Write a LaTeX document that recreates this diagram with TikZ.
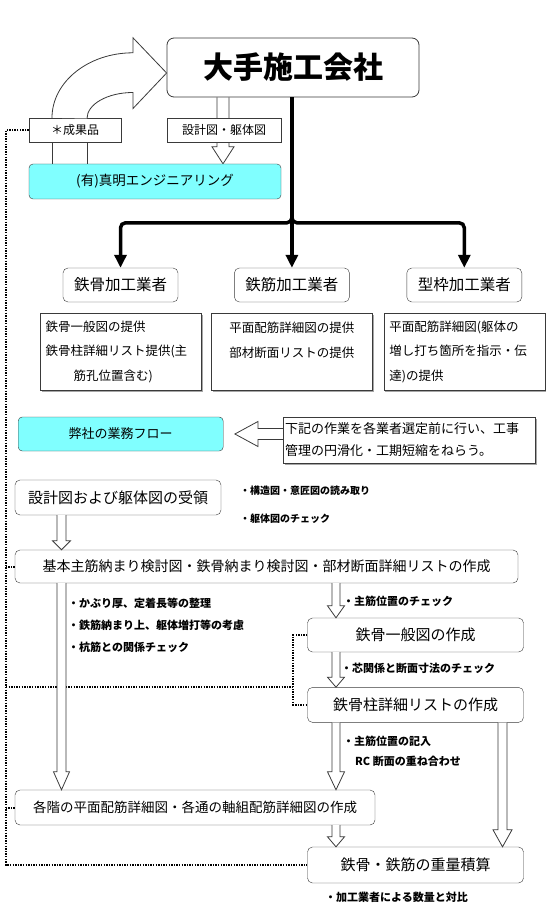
\documentclass[tikz,border=0pt]{standalone}
\usepackage{fontspec}
\setmainfont{Noto Sans CJK JP}
\usetikzlibrary{arrows.meta, positioning, calc, shadows, backgrounds}
\definecolor{frame}{HTML}{3A3A3A}
\definecolor{aqua}{HTML}{80FFFF}
\tikzset{
    >=Latex,
    flow shaft/.store in=\flowshaft,
    flow head/.store in=\flowhead,
    flow head length/.store in=\flowheadlen,
    flow shaft=4.5pt, flow head=9pt, flow head length=15pt,
    flow_company/.style={
        rectangle,
        rounded corners=7pt,
        draw=frame,
        thick,
        fill=white,
        minimum width=252pt,
        minimum height=59pt,
        font=\fontsize{30}{30}\selectfont\bfseries
    },
    flow_label/.style={
        rectangle,
        draw=frame,
        fill=white,
        minimum height=24pt,
        inner sep=0pt,
        font=\fontsize{12}{12}\selectfont
    },
    flow_aqua/.style={
        rectangle,
        rounded corners=4pt,
        draw=frame,
        fill=aqua,
        minimum height=35pt,
        inner sep=0pt,
        font=\fontsize{13.5}{13.5}\selectfont
    },
    flow_maker/.style={
        rectangle,
        rounded corners=5pt,
        draw=frame,
        fill=white,
        minimum width=115pt,
        minimum height=34pt,
        font=\fontsize{15.5}{15.5}\selectfont
    },
    flow_task/.style={
        rectangle,
        draw=frame,
        fill=white,
        minimum width=161pt,
        minimum height=77pt,
        text width=150pt,
        inner sep=0pt,
        align=left,
        font=\fontsize{12.5}{24.5}\selectfont,
        drop shadow={shadow xshift=1.5pt, shadow yshift=-1.5pt, opacity=0.7}
    },
    flow_step/.style={
        rectangle,
        rounded corners=5pt,
        draw=frame,
        fill=white,
        minimum height=34pt,
        inner sep=0pt,
        font=\fontsize{15}{15}\selectfont
    },
    supply_arrow/.style={
        -{Triangle[length=13pt, width=12pt]},
        line width=3.5pt,
        rounded corners=5pt
    },
    flow_arrow/.style={
        draw=frame,
        fill=white,
        line width=0.8pt
    },
    dotted_link/.style={
        black,
        line width=2pt,
        dash pattern=on 1.4pt off 1.2pt
    },
    remark/.style={
        anchor=west,
        inner sep=0pt,
        font=\fontsize{11}{11}\selectfont\bfseries
    }
}
% hollow block arrows, #2 start, #3 end
\newcommand{\flowdown}[3][]{
    \filldraw[flow_arrow, #1] let \p1=#2, \p2=#3 in
      (\x1-\flowshaft,\y1) -- (\x1-\flowshaft,\y2+\flowheadlen)
      -- (\x1-\flowhead,\y2+\flowheadlen) -- (\x1,\y2)
      -- (\x1+\flowhead,\y2+\flowheadlen) -- (\x1+\flowshaft,\y2+\flowheadlen)
      -- (\x1+\flowshaft,\y1);
}
\newcommand{\flowleft}[3][]{
    \filldraw[flow_arrow, #1] let \p1=#2, \p2=#3 in
      (\x1,\y1+\flowshaft) -- (\x2+\flowheadlen,\y1+\flowshaft)
      -- (\x2+\flowheadlen,\y1+\flowhead) -- (\x2,\y1)
      -- (\x2+\flowheadlen,\y1-\flowhead) -- (\x2+\flowheadlen,\y1-\flowshaft)
      -- (\x1,\y1-\flowshaft);
}

\begin{document}
\begin{tikzpicture}[x=1pt, y=-1pt]
\useasboundingbox (0,0) rectangle (550,917);

\node[flow_company] (Company) at (293,67.5) {大手施工会社};
\node[flow_aqua, minimum width=252pt] (Shinmei) at (155,181.5) {(有)真明エンジニアリング};
\node[flow_label, minimum width=92pt] (Result) at (75,130) {＊成果品};
\node[flow_label, minimum width=114pt] (Drawings) at (224,130) {設計図・躯体図};

\begin{scope}[on background layer]
\flowdown[flow shaft=6pt, flow head=11pt, flow head length=17pt]{([xshift=-70pt]Company.south)}{(Shinmei.north)}
\end{scope}

\filldraw[flow_arrow] let \p1=(Result.north), \p2=([yshift=-5.5pt]Company.west) in
  (\x1-23pt,\y1) arc[start angle=180, end angle=90, x radius=81pt, y radius=65pt]
  -- ++(0pt,15pt) -- (\p2) -- (\x1+58pt,\y2-35.5pt) -- (\x1+58pt,\y2-19.5pt)
  arc[start angle=90, end angle=180, x radius=46pt, y radius=26pt];
\draw[frame, line width=0.8pt] ([xshift=-23pt]Result.south) -- ([xshift=-23pt]Result.south |- Shinmei.north);
\draw[frame, line width=0.8pt] ([xshift=12pt]Result.south) -- ([xshift=12pt]Result.south |- Shinmei.north);

\node[flow_maker] (Steel) at (120.5,285) {鉄骨加工業者};
\node[flow_maker, right=56pt of Steel] (Rebar) {鉄筋加工業者};
\node[flow_maker, right=57pt of Rebar] (Form) {型枠加工業者};

\node[flow_task, below=11pt of Steel] (SteelTask)
  {鉄骨一般図の提供\\鉄骨柱詳細リスト提供(主\\\hspace*{28pt}筋孔位置含む)};
\node[flow_task, align=center, below=11pt of Rebar] (RebarTask)
  {平面配筋詳細図の提供\\部材断面リストの提供\\\mbox{}};
\node[flow_task, below=11pt of Form] (FormTask)
  {平面配筋詳細図(躯体の\\増し打ち箇所を指示・伝\\達)の提供};

\draw[supply_arrow] (Company.south -| Rebar.north) -- (Rebar.north);
\draw[supply_arrow] (Company.south -| Rebar.north) |- ([yshift=45pt]Steel.north) -- (Steel.north);
\draw[supply_arrow] (Company.south -| Rebar.north) |- ([yshift=45pt]Form.north) -- (Form.north);

\node[flow_aqua, minimum width=205pt, minimum height=34pt, font=\fontsize{13}{13}\selectfont] (OurFlow) at (120.7,434) {弊社の業務フロー};
\node[flow_task, minimum width=252pt, minimum height=46pt, text width=248pt,
  font=\fontsize{13}{22}\selectfont] (Aim) at (409,440)
  {下記の作業を各業者選定前に行い、工事\\管理の円滑化・工期短縮をねらう。};

\node[flow_step, minimum width=206pt, minimum height=35pt] (Receive) at (118,497.5) {設計図および躯体図の受領};
\node[flow_step, minimum width=503pt, minimum height=33pt, font=\fontsize{14}{14}\selectfont] (Basic) at (266.5,566.5)
  {基本主筋納まり検討図・鉄骨納まり検討図・部材断面詳細リストの作成};
\node[flow_step, minimum width=216pt] (SteelGen) at (415.5,635) {鉄骨一般図の作成};
\node[flow_step, minimum width=216pt, minimum height=35pt, below=35pt of SteelGen] (SteelCol) {鉄骨柱詳細リストの作成};
\node[flow_step, minimum width=360pt, minimum height=35pt, font=\fontsize{13.5}{13.5}\selectfont] (Floors) at (195,807.5)
  {各階の平面配筋詳細図・各通の軸組配筋詳細図の作成};
\node[flow_step, minimum width=216pt, minimum height=36pt] (Weight) at (415.5,865) {鉄骨・鉄筋の重量積算};

\node[remark, font=\fontsize{10}{10}\selectfont\bfseries] (Read) at (240,491) {・構造図・意匠図の読み取り};
\node[remark, font=\fontsize{10}{10}\selectfont\bfseries] (Check) at (240,519) {・躯体図のチェック};
\node[remark] (Cover) at (68,603) {・かぶり厚、定着長等の整理};
\node[remark] (Extra) at (68,625) {・鉄筋納まり上、躯体増打等の考慮};
\node[remark] (Pile) at (68,647) {・杭筋との関係チェック};
\node[remark] (MainPos) at (343,601) {・主筋位置のチェック};
\node[remark] (Core) at (341,668) {・芯関係と断面寸法のチェック};
\node[remark] (Entry) at (343,741) {・主筋位置の記入};
\node[remark] (Overlay) at (355,761) {RC 断面の重ね合わせ};
\node[remark] (Compare) at (325,897) {・加工業者による数量と対比};

\coordinate (trunk) at (6,0);
\coordinate (bend) at ([xshift=-14pt]SteelGen.west);
\draw[dotted_link] (Result.west) -| (trunk |- Weight.west) -- (Weight.west);
\draw[dotted_link] (Basic.west) -- (Basic.west -| trunk);
\draw[dotted_link] (Floors.west) -- (Floors.west -| trunk);
\draw[dotted_link] (SteelGen.west) -- (bend) |- (SteelCol.west);
\draw[dotted_link] (trunk |- SteelCol.north) -- (bend |- SteelCol.north);

\flowleft[flow shaft=5.5pt, flow head=12.5pt, flow head length=23pt]{([yshift=6pt]Aim.west)}{([xshift=11.5pt]OurFlow.east)}
\flowdown[flow head=9pt, flow head length=9pt]{([xshift=-56.5pt]Receive.south)}{(Basic.north)}
\flowdown[flow head=8pt, flow head length=18pt]{([xshift=-205pt]Basic.south)}{(Floors.north)}
\flowdown[flow shaft=4pt, flow head=8.5pt, flow head length=12pt]{([xshift=69.5pt]Basic.south)}{(SteelGen.north)}
\flowdown[flow shaft=4pt, flow head=8.5pt, flow head length=10pt]{([xshift=-79.5pt]SteelGen.south)}{(SteelCol.north)}
\flowdown[flow shaft=4pt, flow head=8.5pt, flow head length=18pt]{([xshift=-79.5pt]SteelCol.south)}{(Floors.north)}
\flowdown[flow shaft=4pt, flow head=8.5pt, flow head length=10pt]{([xshift=141pt]Floors.south)}{(Weight.north)}
\flowdown[flow shaft=4.5pt, flow head=9.5pt, flow head length=17pt]{([xshift=87pt]SteelCol.south)}{(Weight.north)}

\end{tikzpicture}
\end{document}
